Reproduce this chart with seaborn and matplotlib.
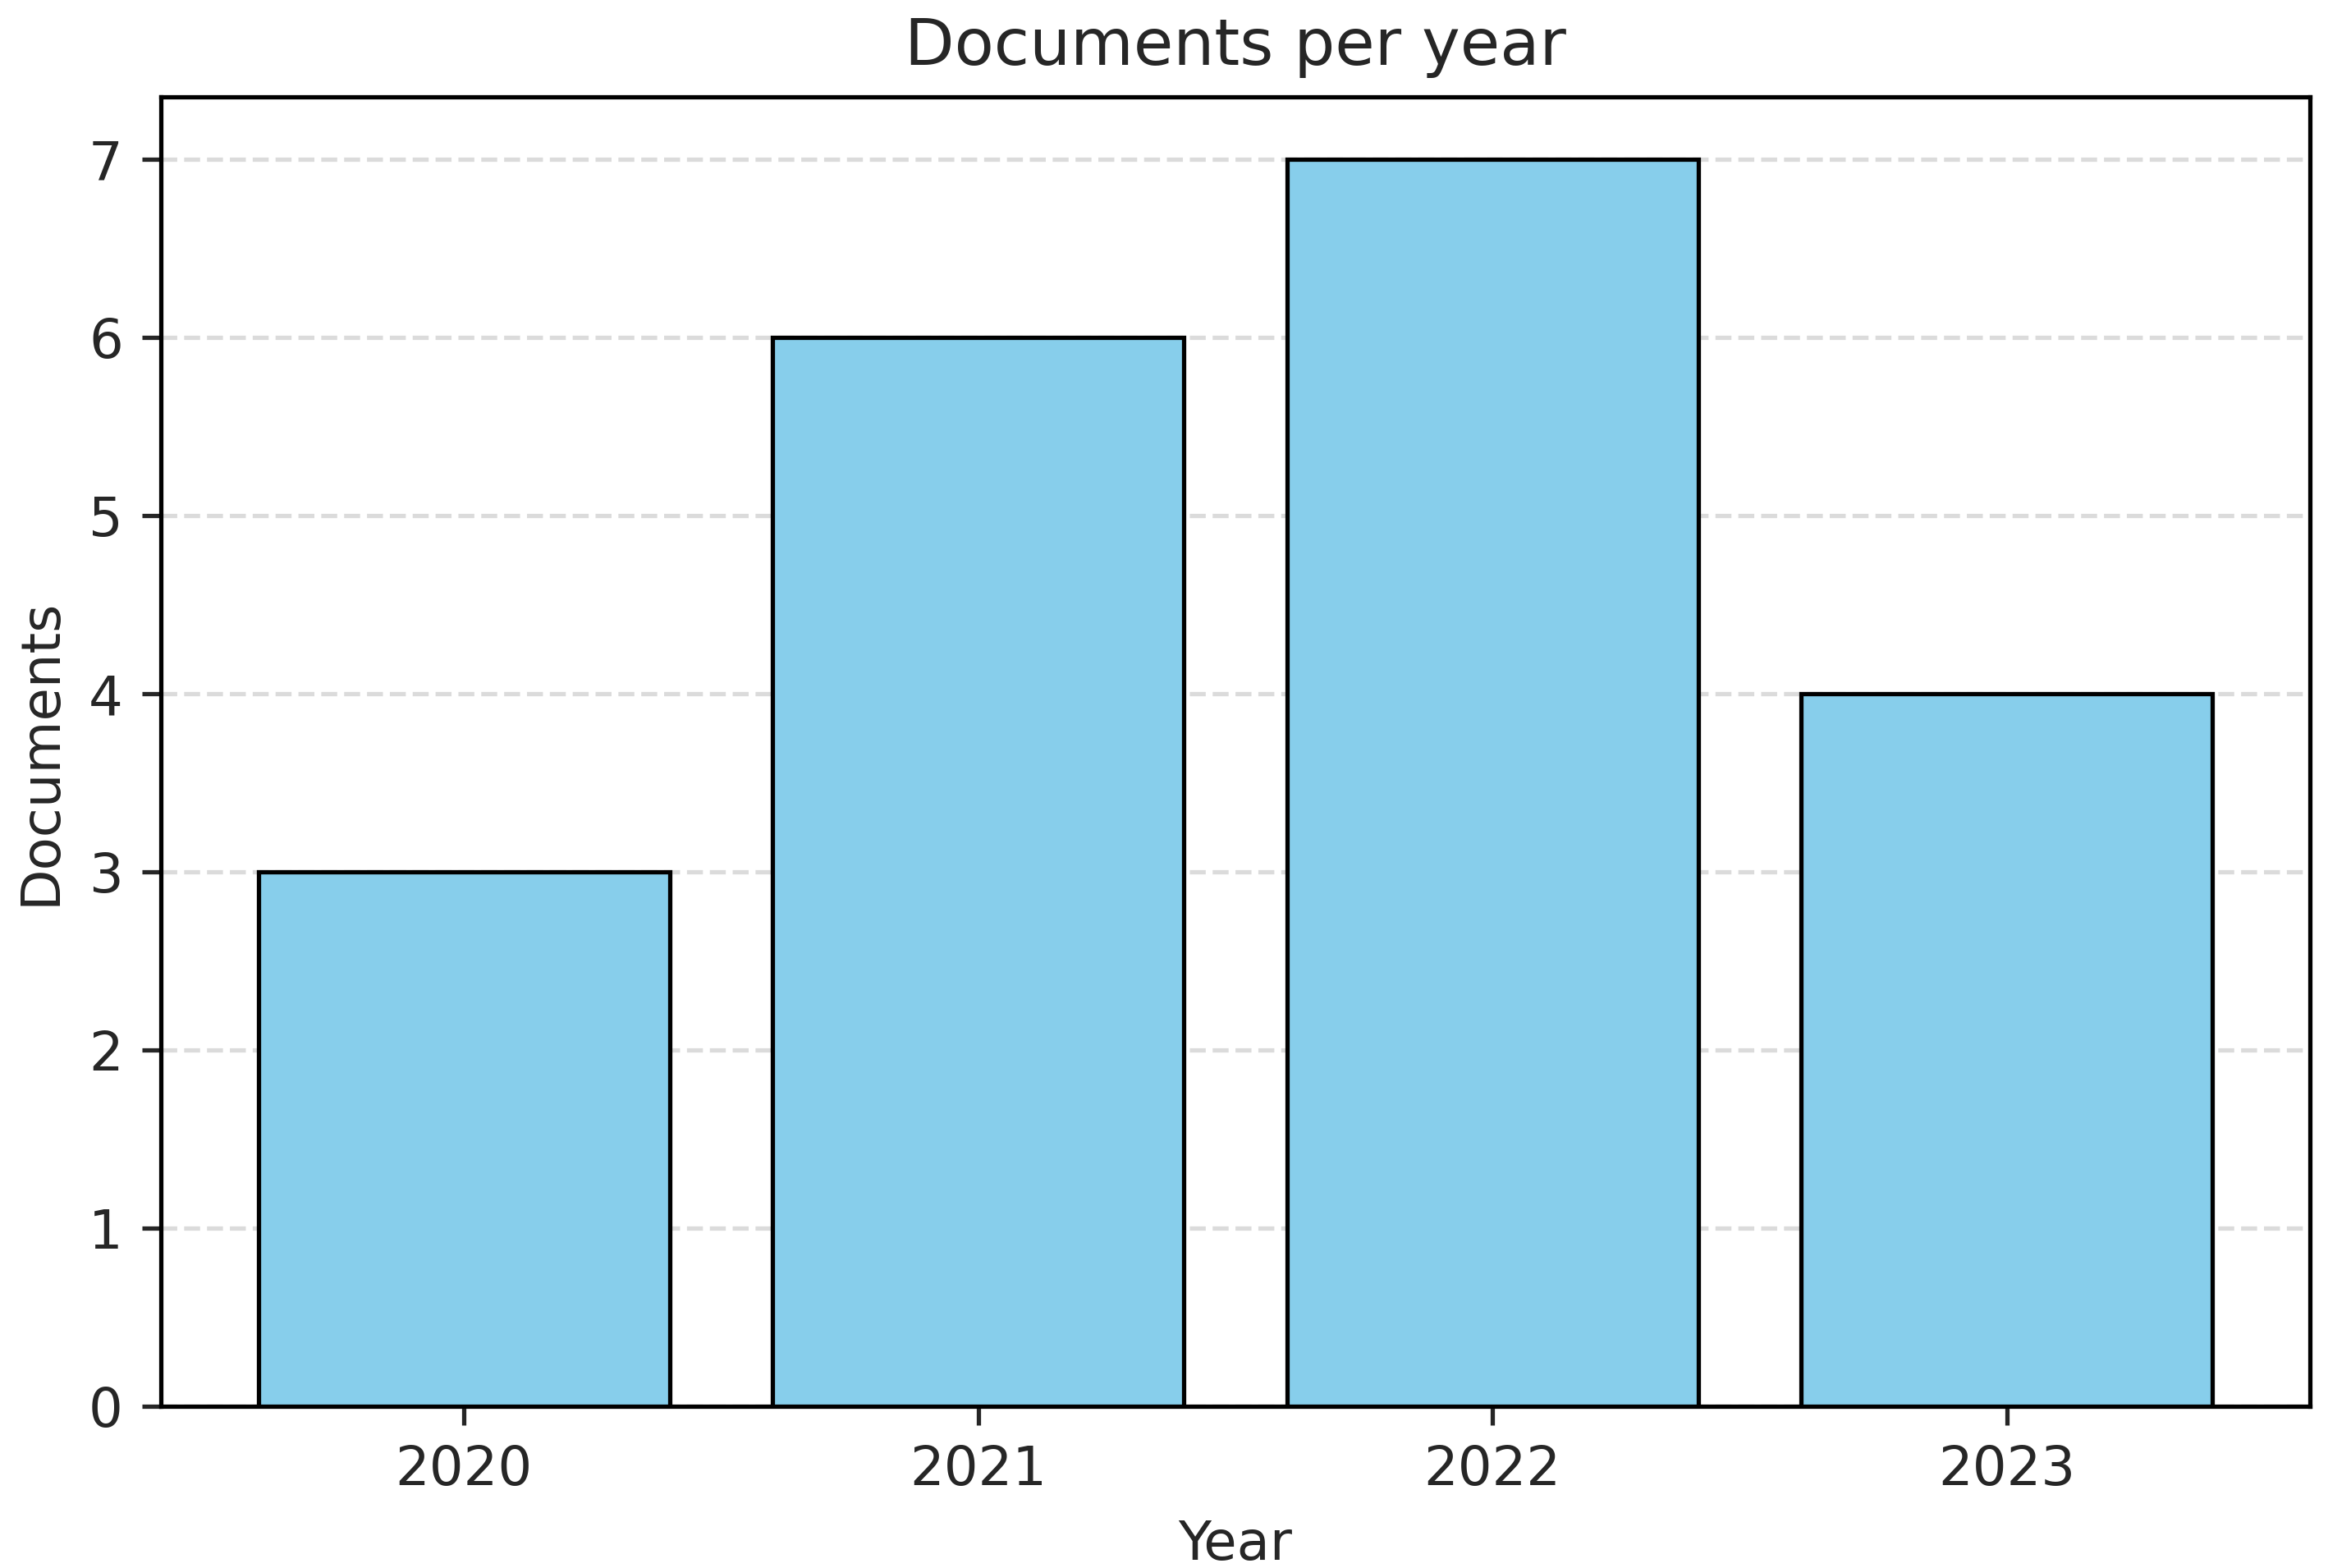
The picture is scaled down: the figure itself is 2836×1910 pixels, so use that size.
import matplotlib
matplotlib.use("Agg")
import matplotlib.pyplot as plt
import seaborn as sns
import pandas as pd

# Data
years = ["2020", "2021", "2022", "2023"]
documents = [3, 6, 7, 4]

df = pd.DataFrame({"Year": years, "Documents": documents})

sns.set_style("white")
plt.rcParams["font.family"] = ["DejaVu Sans"]

fig, ax = plt.subplots(figsize=(6, 4.04), dpi=472.8)
sns.barplot(data=df, x="Year", y="Documents", color="skyblue", saturation=1,
            edgecolor="black", linewidth=0.8, width=0.8, ax=ax, zorder=3)

ax.set_xlim(-0.59, 3.59)
ax.set_ylim(0, 7.35)
ax.set_title("Documents per year", fontsize=12)
ax.set_xlabel("Year", fontsize=10)
ax.set_ylabel("Documents", fontsize=10)
ax.grid(axis="y", linestyle="--", alpha=0.7, zorder=0)
ax.tick_params(axis="both", which="both", length=3.5, width=0.8, direction="out",
               bottom=True, left=True, labelsize=10)
for s in ax.spines.values():
    s.set_color("black")
    s.set_linewidth(0.8)

fig.subplots_adjust(left=0.069, right=0.992, top=0.938, bottom=0.103)
fig.savefig("out.png")
